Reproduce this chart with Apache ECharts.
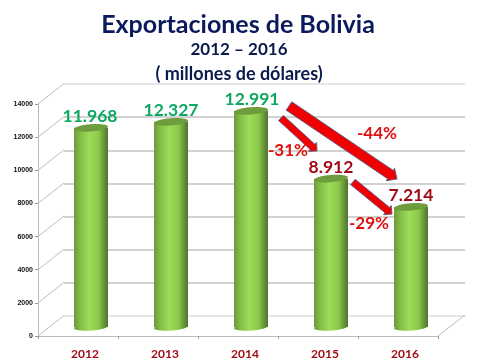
<!DOCTYPE html>
<html>
<head>
<meta charset="utf-8">
<title>Exportaciones de Bolivia</title>
<style>
  html, body { margin: 0; padding: 0; background: #fff; }
  #chart { width: 480px; height: 360px; }
</style>
<script src="https://cdn.jsdelivr.net/npm/echarts@6/dist/echarts.min.js"></script>
</head>
<body>
<div id="chart"></div>
<script>
const categories = ['2012', '2013', '2014', '2015', '2016'];
const exportValues = [11968, 12327, 12991, 8912, 7214];
const tickValues = [0, 2000, 4000, 6000, 8000, 10000, 12000, 14000];
const changeLabels = ['-31%', '-44%', '-29%'];

const FONT = 'Lato, "Open Sans", sans-serif';
const GREEN_TEXT = '#0DA860';
const DARK_RED = '#A00A14';
const RED = '#E01010';

// valores con punto de miles, como en la lamina
function fmt(v) {
  return String(v).replace(/(\d)(\d{3})$/, '$1.$2');
}

// flecha inclinada: from -> to, sw = ancho del cuerpo, hw = ancho de la punta, hl = largo de la punta
function arrowPoints(from, to, sw, hw, hl) {
  const dx = to[0] - from[0], dy = to[1] - from[1];
  const len = Math.sqrt(dx * dx + dy * dy);
  const ux = dx / len, uy = dy / len, nx = -uy, ny = ux;
  const bx = to[0] - ux * hl, by = to[1] - uy * hl;
  return [
    [from[0] + nx * sw / 2, from[1] + ny * sw / 2],
    [bx + nx * sw / 2, by + ny * sw / 2],
    [bx + nx * hw / 2, by + ny * hw / 2],
    to,
    [bx - nx * hw / 2, by - ny * hw / 2],
    [bx - nx * sw / 2, by - ny * sw / 2],
    [from[0] - nx * sw / 2, from[1] - ny * sw / 2]
  ];
}

function arrow(from, to, sw, hw, hl) {
  return {
    type: 'polygon',
    z: 20,
    shape: { points: arrowPoints(from, to, sw, hw, hl) },
    style: { fill: '#F00000', stroke: '#6A5A80', lineWidth: 1, lineJoin: 'round' }
  };
}

function pctText(text, x, y) {
  return {
    type: 'text',
    z: 21,
    x: x,
    y: y,
    style: {
      text: text,
      fill: RED,
      font: 'bold 17px ' + FONT,
      align: 'center',
      verticalAlign: 'middle'
    }
  };
}

function renderCylinder(params, api) {
  const i = api.value(0);
  const top = api.coord([i, api.value(1)]);
  const base = api.coord([i, 0]);
  const rx = 17, ry = 3.6, tilt = 0.08;
  const bodyFill = new echarts.graphic.LinearGradient(0, 0, 1, 0, [
    { offset: 0, color: '#6E9A3A' },
    { offset: 0.18, color: '#86BC48' },
    { offset: 0.45, color: '#9BDD58' },
    { offset: 0.72, color: '#8CC84C' },
    { offset: 0.92, color: '#5F8A34' },
    { offset: 1, color: '#4E7430' }
  ]);
  const bottomEllipse = {
    type: 'ellipse',
    x: base[0],
    y: base[1],
    rotation: tilt,
    shape: { cx: 0, cy: 0, rx: rx, ry: ry },
    style: { fill: bodyFill }
  };
  const body = {
    type: 'rect',
    shape: { x: top[0] - rx, y: top[1], width: rx * 2, height: base[1] - top[1] },
    style: { fill: bodyFill }
  };
  const cap = {
    type: 'ellipse',
    x: top[0],
    y: top[1],
    rotation: tilt,
    shape: { cx: 0, cy: 0, rx: rx, ry: ry },
    style: { fill: '#6F9C3C' }
  };
  const label = {
    type: 'text',
    z2: 10,
    x: top[0] + (i < 3 ? i - 1 : 0),
    y: top[1] - 11.5,
    style: {
      text: fmt(api.value(1)),
      fill: i < 3 ? GREEN_TEXT : DARK_RED,
      font: 'bold 17.5px ' + FONT,
      align: 'center',
      verticalAlign: 'middle'
    }
  };
  return { type: 'group', children: [bottomEllipse, body, cap, label] };
}

// lineas de la pared izquierda y del piso, de la cara frontal hacia el fondo
function renderWall(params, api) {
  const cs = params.coordSys;
  const p = api.coord([0, api.value(0)]);
  const x0 = cs.x;
  const lines = [{
    type: 'line',
    shape: { x1: x0, y1: p[1], x2: x0 + 26, y2: p[1] - 20.5 },
    style: { stroke: '#BDBDBD', lineWidth: 1 }
  }];
  if (api.value(0) === 0) {
    lines.push({
      type: 'line',
      shape: { x1: x0 + cs.width, y1: p[1], x2: x0 + cs.width + 27, y2: p[1] - 21 },
      style: { stroke: '#BDBDBD', lineWidth: 1 }
    });
  }
  return { type: 'group', children: lines };
}

const hiddenX = { type: 'category', data: categories, axisLabel: { show: false }, axisLine: { show: false }, axisTick: { show: false }, splitLine: { show: false } };
const hiddenY = { type: 'value', min: 0, max: 14000, interval: 2000, axisLabel: { show: false }, axisLine: { show: false }, axisTick: { show: false }, splitLine: { show: false } };

const chart = echarts.init(document.getElementById('chart'), null, { renderer: 'canvas' });
chart.setOption({
  animation: false,
  backgroundColor: '#fff',
  title: [
    { text: 'Exportaciones de Bolivia', left: 233, top: 7, textAlign: 'center',
      textStyle: { fontFamily: FONT, fontWeight: 'bold', fontSize: 25, color: '#0B1A5C' } },
    { text: '2012 – 2016', left: 234, top: 36, textAlign: 'center',
      textStyle: { fontFamily: FONT, fontWeight: 'bold', fontSize: 17, color: '#0B1A4C' } },
    { text: '( millones de dólares)', left: 234, top: 60, textAlign: 'center',
      textStyle: { fontFamily: FONT, fontWeight: 'bold', fontSize: 18, color: '#0B1A4C' } }
  ],
  grid: [
    { left: 38, top: 104, width: 400, height: 233 },  // cara frontal
    { left: 51, top: 94, width: 400, height: 233 },   // plano de las barras
    { left: 64, top: 84, width: 401, height: 232 }    // pared del fondo
  ],
  xAxis: [
    {
      type: 'category',
      data: categories,
      gridIndex: 0,
      axisLine: { lineStyle: { color: '#BDBDBD', width: 1 } },
      axisTick: { show: true, length: 3, lineStyle: { color: '#999' } },
      axisLabel: { margin: 12, padding: [0, 0, 0, 14], fontFamily: FONT, fontWeight: 'bold', fontSize: 12, color: DARK_RED }
    },
    Object.assign({}, hiddenX, { gridIndex: 1 }),
    Object.assign({}, hiddenX, { gridIndex: 2 })
  ],
  yAxis: [
    {
      type: 'value',
      gridIndex: 0,
      min: 0,
      max: 14000,
      interval: 2000,
      axisLine: { show: true, lineStyle: { color: '#BDBDBD', width: 1 } },
      axisTick: { show: true, length: 3, lineStyle: { color: '#999' } },
      axisLabel: { margin: 5, formatter: function (v) { return String(v); }, fontFamily: '"Liberation Sans", sans-serif', fontWeight: 'bold', fontSize: 7, color: '#111' },
      splitLine: { show: false }
    },
    Object.assign({}, hiddenY, { gridIndex: 1 }),
    Object.assign({}, hiddenY, {
      gridIndex: 2,
      splitLine: {
        show: true,
        lineStyle: {
          width: 1.5,
          color: ['#DEDEDE', '#C2C2C2', '#C2C2C2', '#C2C2C2', '#C2C2C2', '#C2C2C2', '#C2C2C2', '#DEDEDE']
        }
      }
    })
  ],
  series: [
    {
      type: 'custom',
      name: 'pared',
      xAxisIndex: 0,
      yAxisIndex: 0,
      z: 1,
      clip: false,
      silent: true,
      renderItem: renderWall,
      encode: { y: 0 },
      data: tickValues.map(function (v) { return [v]; })
    },
    {
      type: 'custom',
      name: 'Exportaciones',
      xAxisIndex: 1,
      yAxisIndex: 1,
      z: 5,
      clip: false,
      renderItem: renderCylinder,
      encode: { x: 0, y: 1 },
      data: exportValues.map(function (v, i) { return [i, v]; })
    }
  ],
  graphic: [
    arrow([281, 118], [317, 151], 7, 12, 6),
    arrow([289, 106], [397, 179], 10, 15, 8),
    arrow([353, 182], [392, 214], 7, 12, 6),
    pctText(changeLabels[0], 288, 151),
    pctText(changeLabels[1], 377, 134),
    pctText(changeLabels[2], 369, 224)
  ]
});
</script>
</body>
</html>
